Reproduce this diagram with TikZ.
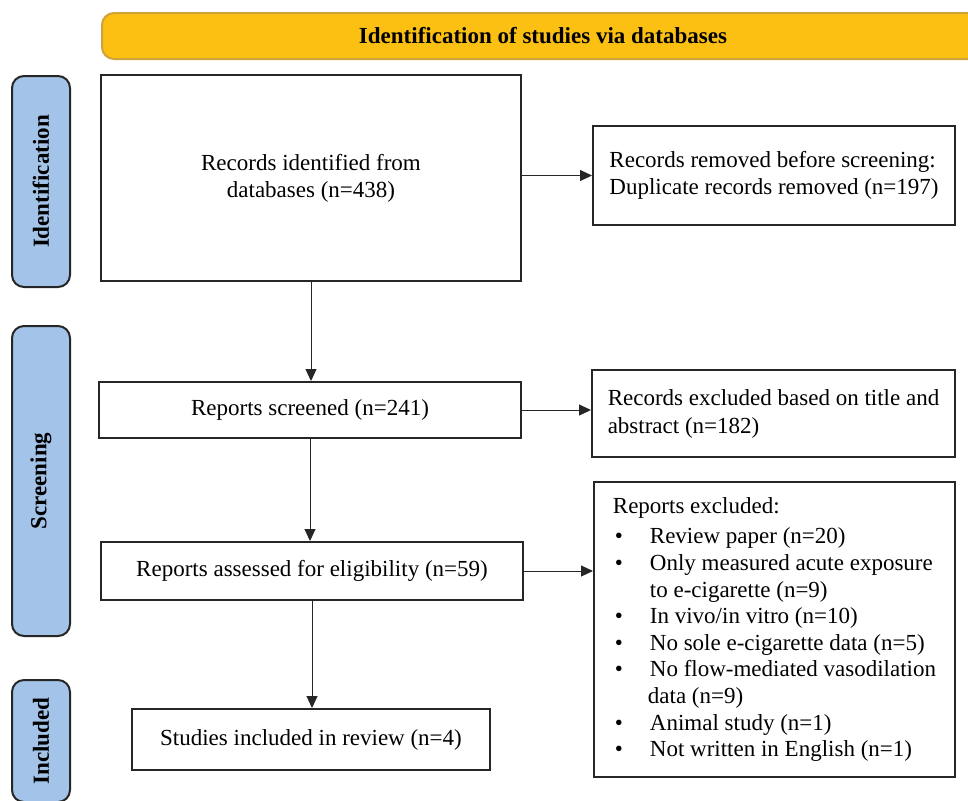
\documentclass[tikz,border=0pt]{standalone}
\usepackage{fontspec}
\setmainfont{Liberation Serif}
\usetikzlibrary{arrows.meta}
\definecolor{gold}{HTML}{FBC012}
\definecolor{golddark}{HTML}{CFA23A}
\definecolor{phase}{HTML}{A3C4E8}
\definecolor{ink}{HTML}{262626}
\newcommand{\exitem}[1]{\makebox[18.5pt][l]{\hspace{1pt}\textbullet}#1}
\tikzset{
  box/.style={draw=ink,line width=1pt,inner sep=0pt,align=center},
  sidebox/.style={draw=ink,line width=1pt,inner sep=0pt,align=left},
  phasebox/.style={draw=ink,fill=phase,line width=1pt,rounded corners=6pt,rotate=90,font=\fontsize{11.5}{13.5}\selectfont\bfseries},
  flow/.style={-{Triangle[length=6pt,width=5.5pt]},line width=.5pt,ink}
}
\begin{document}
\begin{tikzpicture}[x=.5pt,y=-.5pt,font=\fontsize{11.5}{13.5}\selectfont]
\useasboundingbox (0,0) rectangle (968,800);
\node[draw=golddark,fill=gold,line width=1pt,rounded corners=6pt,minimum width=441pt,minimum height=23pt,font=\fontsize{11.5}{13.5}\selectfont\bfseries] (title) at (543,36) {Identification of studies via databases};
% phases on the left
\foreach \name/\y/\h/\txt in {idphase/181.5/105.5/Identification,scphase/481/155/Screening,inphase/741/61/Included}
  \node[phasebox,minimum width=\h pt,minimum height=29pt] (\name) at (41,\y) {\txt};
% main column
\node[box,minimum width=210pt,minimum height=103pt] (records) at (311,178) {Records identified from\\databases (n=438)};
\node[box,minimum width=211pt,minimum height=28pt] (screened) at (310,410) {Reports screened (n=241)};
\node[box,minimum width=211pt,minimum height=29pt] (eligible) at (312,571) {Reports assessed for eligibility (n=59)};
\node[box,minimum width=179pt,minimum height=30.5pt] (included) at (311,739.5) {Studies included in review (n=4)};
% side column
\node[sidebox,minimum width=181pt,minimum height=49.5pt] (removed) at (774,175.5) {Records removed before screening:\\Duplicate records removed (n=197)};
\node[sidebox,minimum width=181.5pt,minimum height=43.5pt,font=\fontsize{11.5}{14}\selectfont] (excluded) at (773.5,413.5) {Records excluded based on title and\\abstract (n=182)};
\node[sidebox,minimum width=180.5pt,minimum height=147.5pt,font=\fontsize{11.5}{13.3}\selectfont] (reasons) at (774.5,629.5) {Reports excluded:\\[2pt]
  \exitem{Review paper (n=20)}\\
  \exitem{Only measured acute exposure}\\
  \hspace*{18.5pt}to e-cigarette (n=9)\\
  \exitem{In vivo/in vitro (n=10)}\\
  \exitem{No sole e-cigarette data (n=5)}\\
  \exitem{No flow-mediated vasodilation}\\
  \hspace*{17.5pt}data (n=9)\\
  \exitem{Animal study (n=1)}\\
  \exitem{Not written in English (n=1)}};
% connectors
\draw[flow] (records.south) -- (records.south |- screened.north);
\draw[flow] (screened.south) -- (screened.south |- eligible.north);
\draw[flow] (eligible.south) -- (eligible.south |- included.north);
\draw[flow] (records.east |- removed.west) -- (removed.west);
\draw[flow] (screened.east) -- (screened.east -| excluded.west);
\draw[flow] (eligible.east) -- (eligible.east -| reasons.west);
\end{tikzpicture}
\end{document}
